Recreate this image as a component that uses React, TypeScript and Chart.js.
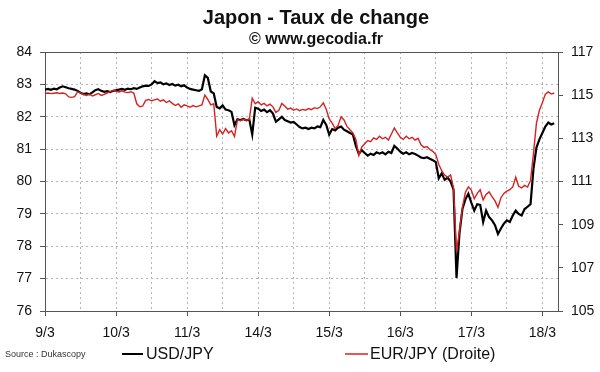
import React, { useEffect, useRef } from "react";
import { Chart, registerables } from "chart.js";

Chart.register(...registerables);

// Trading days shown on the x axis (weekend skipped)
const dayLabels = ["9/3", "10/3", "11/3", "14/3", "15/3", "16/3", "17/3", "18/3"];
const HOURS_PER_DAY = 24;

// USD/JPY hourly quotes (left axis)
const usdJpy = [
  // 9/3
  82.84, 82.86, 82.83, 82.87, 82.85, 82.9, 82.94, 82.91, 82.88, 82.86, 82.84, 82.8,
  82.74, 82.7, 82.72, 82.69, 82.75, 82.82, 82.85, 82.8, 82.77, 82.79, 82.76, 82.8,
  // 10/3
  82.82, 82.84, 82.86, 82.83, 82.87, 82.85, 82.88, 82.86, 82.9, 82.94, 82.96, 82.95,
  83.0, 83.1, 83.04, 83.06, 83.0, 83.03, 82.98, 83.01, 82.96, 82.99, 82.94, 82.97,
  // 11/3
  82.9, 82.86, 82.84, 82.82, 82.8, 82.85, 83.28, 83.2, 82.78, 82.72, 82.3, 82.26,
  82.35, 82.22, 82.2, 82.15, 81.74, 81.92, 81.9, 81.93, 81.89, 81.92, 81.45, 82.28,
  // 14/3
  82.25, 82.18, 82.22, 82.14, 82.2, 82.1, 81.85, 81.92, 82.0, 81.9, 81.86, 81.82,
  81.84, 81.76, 81.68, 81.64, 81.66, 81.62, 81.66, 81.64, 81.7, 81.68, 81.9, 81.75,
  // 15/3
  81.45, 81.62, 81.58, 81.66, 81.7, 81.6, 81.55, 81.5, 81.45, 81.1, 80.85, 80.97,
  80.88, 80.8, 80.86, 80.82, 80.9, 80.86, 80.9, 80.84, 80.92, 80.88, 81.1, 81.02,
  // 16/3
  80.92, 80.86, 80.9, 80.84, 80.88, 80.85, 80.8, 80.74, 80.72, 80.75, 80.7, 80.66,
  80.6, 80.1, 80.25, 80.05, 80.12, 80.0, 79.75, 77.02, 78.4, 79.15, 79.45, 79.62,
  // 17/3
  79.35, 79.1, 79.3, 79.28, 78.75, 79.1, 78.9, 78.8, 78.65, 78.38, 78.55, 78.7,
  78.8, 78.75, 78.95, 79.1, 79.0, 78.95, 79.15, 79.22, 79.3, 80.4, 81.05, 81.3,
  // 18/3
  81.5, 81.7, 81.82, 81.76, 81.8,
];

// EUR/JPY hourly quotes (right axis)
const eurJpy = [
  // 9/3
  115.08, 115.1, 115.07, 115.09, 115.11, 115.08, 115.1, 115.06, 114.92, 114.9, 114.93, 115.15,
  115.12, 115.03, 114.98, 115.05, 114.96, 115.02, 115.08, 114.99, 115.04, 115.1, 115.16, 115.22,
  // 10/3
  115.18, 115.15, 115.2, 115.14, 115.12, 115.16, 115.1, 114.6, 114.46, 114.5, 114.76, 114.8,
  114.74, 114.78, 114.82, 114.72, 114.78, 114.66, 114.74, 114.62, 114.52, 114.6, 114.44, 114.55,
  // 11/3
  114.5, 114.44, 114.52, 114.46, 114.5, 114.55, 115.0, 114.8, 114.55, 114.6, 113.1, 113.4,
  113.2, 113.45, 113.25, 113.35, 113.08, 113.86, 113.82, 113.88, 113.84, 113.87, 114.86, 114.6,
  // 14/3
  114.7, 114.55, 114.62, 114.5, 114.58, 114.46, 114.2, 114.3, 114.62, 114.5, 114.35, 114.4,
  114.3, 114.36, 114.28, 114.34, 114.3, 114.38, 114.33, 114.42, 114.38, 114.46, 114.64, 114.35,
  // 15/3
  113.9, 113.7, 113.45, 113.6, 114.0, 113.85, 113.55, 113.4, 113.25, 112.95, 112.2, 112.6,
  112.75, 112.9, 112.85, 113.02, 112.95, 113.1, 112.98, 113.05, 112.92, 113.2, 113.48, 113.25,
  // 16/3
  113.05, 112.95, 113.1, 112.98, 113.05, 112.92, 113.0, 112.7, 112.58, 112.62, 112.48, 112.4,
  112.25, 111.8, 111.5, 111.3, 111.2, 111.3, 110.7, 107.75, 108.7, 109.8, 110.5, 110.75,
  // 17/3
  110.6, 110.2, 110.45, 110.62, 110.15, 110.4, 110.52, 110.3, 110.1, 109.8, 110.25, 110.45,
  110.55, 110.62, 110.75, 111.2, 110.78, 110.7, 110.82, 110.74, 111.05, 112.3, 113.7, 114.3,
  // 18/3
  114.65, 115.05, 115.15, 115.05, 115.1,
];

const seriesNames = ["USD/JPY", "EUR/JPY (Droite)"];
const titleText = "Japon - Taux de change";
const subtitleText = "© www.gecodia.fr";
const sourceText = "Source : Dukascopy";

const FONT = '"Liberation Sans", Arial, sans-serif';
const RED = "#d42222";
const AXIS = "#555555";
const GRID = "#b4b4b4";

const decorPlugin = {
  id: "decor",
  afterDraw(chart: any) {
    const { ctx, chartArea: ca } = chart;
    ctx.save();
    ctx.setLineDash([]);
    ctx.strokeStyle = AXIS;
    ctx.lineWidth = 1;
    ctx.beginPath();
    ctx.moveTo(ca.left, ca.top + 0.5);
    ctx.lineTo(ca.right, ca.top + 0.5);
    ctx.stroke();

    ctx.fillStyle = "#111";
    ctx.textAlign = "center";
    ctx.textBaseline = "middle";
    ctx.font = `bold 20px ${FONT}`;
    ctx.fillText(titleText, 316, 18);
    ctx.font = `bold 16px ${FONT}`;
    ctx.fillText(subtitleText, 316, 40);

    ctx.textAlign = "left";
    ctx.fillStyle = "#333";
    ctx.font = `9px "Liberation Sans Narrow", ${FONT}`;
    ctx.fillText(sourceText, 5, 355);

    ctx.font = `16px ${FONT}`;
    ctx.fillStyle = "#111";
    ctx.strokeStyle = "#000";
    ctx.lineWidth = 2;
    ctx.beginPath();
    ctx.moveTo(122, 354);
    ctx.lineTo(143, 354);
    ctx.stroke();
    ctx.fillText(seriesNames[0], 146, 355);

    ctx.strokeStyle = RED;
    ctx.lineWidth = 1.5;
    ctx.beginPath();
    ctx.moveTo(345, 354);
    ctx.lineTo(368, 354);
    ctx.stroke();
    ctx.fillText(seriesNames[1], 370, 355);
    ctx.restore();
  },
};

export default function App() {
  const ref = useRef<HTMLCanvasElement | null>(null);

  useEffect(() => {
    if (!ref.current) return;
    const toPoints = (arr: number[]) => arr.map((v, i) => ({ x: i / HOURS_PER_DAY, y: v }));
    const tickFont = { family: FONT, size: 14 };
    const chart = new Chart(ref.current, {
      type: "line",
      data: {
        datasets: [
          {
            label: seriesNames[1],
            data: toPoints(eurJpy),
            yAxisID: "yR",
            borderColor: RED,
            borderWidth: 1.4,
            pointRadius: 0,
            tension: 0,
            order: 0,
          },
          {
            label: seriesNames[0],
            data: toPoints(usdJpy),
            yAxisID: "y",
            borderColor: "#000",
            borderWidth: 2.2,
            pointRadius: 0,
            tension: 0,
            order: 1,
          },
        ],
      },
      options: {
        responsive: false,
        animation: false,
        devicePixelRatio: 1,
        layout: { padding: { top: 52, left: 0, right: 0, bottom: 0 } },
        plugins: { legend: { display: false }, tooltip: { enabled: false }, title: { display: false } },
        scales: {
          x: {
            type: "linear",
            min: 0,
            max: 7.22,
            afterFit: (s: any) => {
              s.height = 61;
            },
            border: { display: true, color: AXIS, width: 1, dash: [2, 3] },
            grid: {
              display: true,
              drawOnChartArea: true,
              drawTicks: true,
              color: GRID,
              lineWidth: 1,
              tickLength: 5,
              tickColor: (c: any) =>
                c.tick && Number.isInteger(c.tick.value) ? AXIS : "rgba(0,0,0,0)",
            },
            ticks: {
              stepSize: 0.5,
              includeBounds: false,
              autoSkip: false,
              maxRotation: 0,
              padding: 9,
              color: "#111",
              font: tickFont,
              callback: (v: any) => (Number.isInteger(v) ? dayLabels[v] ?? "" : " "),
            },
          },
          y: {
            position: "left",
            min: 76,
            max: 84,
            afterFit: (s: any) => {
              s.width = 45;
            },
            border: { display: true, color: AXIS, width: 1, dash: [2, 3] },
            grid: { color: GRID, tickLength: 5, tickColor: AXIS },
            ticks: { stepSize: 1, padding: 8, color: "#111", font: tickFont },
          },
          yR: {
            position: "right",
            min: 105,
            max: 117,
            afterFit: (s: any) => {
              s.width = 42;
            },
            border: { display: true, color: AXIS, width: 1 },
            grid: { drawOnChartArea: false, tickLength: 5, tickColor: AXIS },
            ticks: { stepSize: 2, padding: 8, color: "#111", font: tickFont },
          },
        },
      },
      plugins: [decorPlugin],
    } as any);
    return () => chart.destroy();
  }, []);

  return (
    <div style={{ position: "fixed", left: 0, top: 0, width: 600, height: 372, background: "#fff" }}>
      <canvas ref={ref} width={600} height={372} style={{ display: "block", width: 600, height: 372 }} />
    </div>
  );
}
